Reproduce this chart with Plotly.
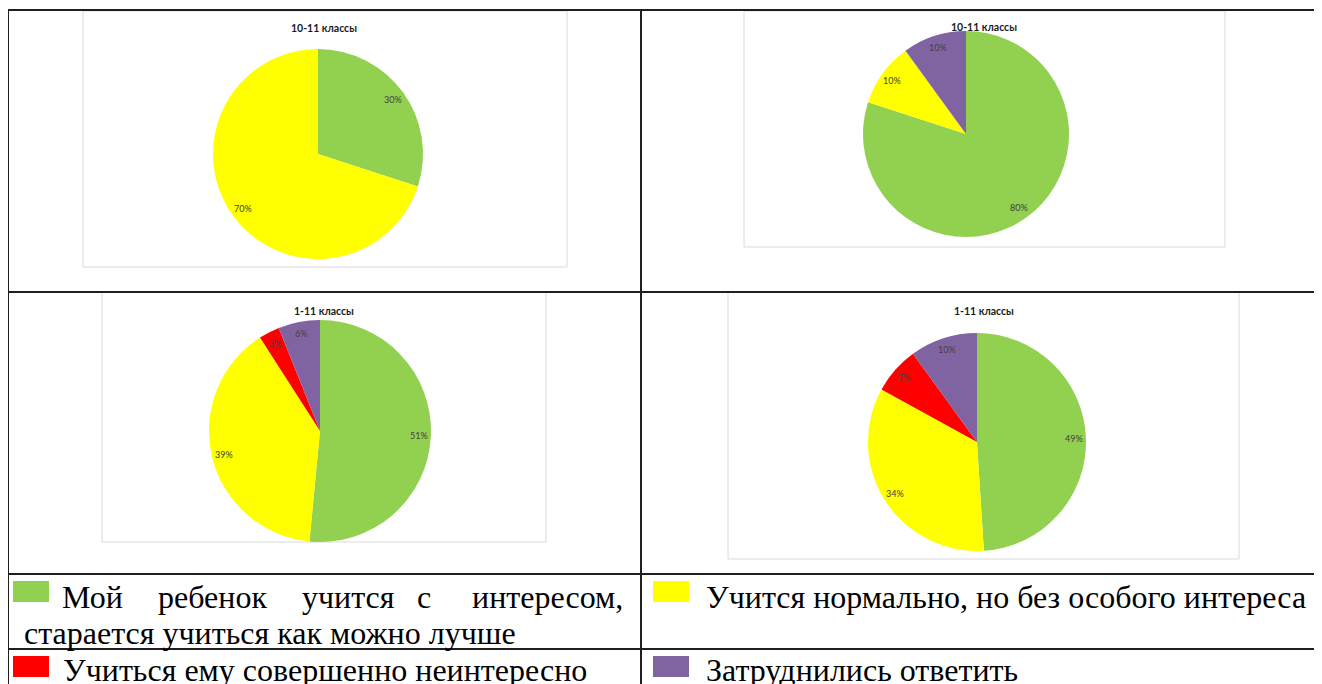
import math
import plotly.graph_objects as go

W, H = 1322, 684
# el navegador deja 8 px de margen en el body: se compensa aquí
DESPLAZ = 8

categorias = [
    "Мой ребенок учится с интересом, старается учиться как можно лучше",
    "Учится нормально, но без особого интереса",
    "Учиться ему совершенно неинтересно",
    "Затруднились ответить",
]
colores = ["#92D050", "#FFFF00", "#FF0000", "#8064A2"]

titulos = ["10-11 классы", "10-11 классы", "1-11 классы", "1-11 классы"]
valores_1 = [30, 70, 0, 0]
valores_2 = [80, 10, 0, 10]
valores_3 = [51, 39, 3, 6]
valores_4 = [49, 34, 7, 10]
valores = [valores_1, valores_2, valores_3, valores_4]

# posición de cada diagrama en píxeles: centro, radio, título y marco
centros = [(318, 154), (966, 134), (320, 431), (977, 442)]
radios = [105, 103, 111, 109]
pos_titulos = [(324, 28), (984, 27), (324, 311), (984, 311)]
marcos = [(83, 11, 567, 267), (744, 11, 1225, 247), (102, 292, 546, 542), (728, 292, 1239, 559)]


def px_x(x):
    return (x - DESPLAZ) / W


def px_y(y):
    return 1 - (y - DESPLAZ) / H


fig = go.Figure()
anotaciones = []
formas = []

for i, vals in enumerate(valores):
    cx, cy = centros[i]
    r = radios[i]
    fig.add_trace(go.Pie(
        labels=categorias,
        values=vals,
        marker=dict(colors=colores, line=dict(width=0)),
        sort=False,
        direction="clockwise",
        rotation=0,
        textinfo="none",
        hoverinfo="label+value",
        showlegend=False,
        domain=dict(x=[px_x(cx - r), px_x(cx + r)], y=[px_y(cy + r), px_y(cy - r)]),
    ))

    # etiquetas de porcentaje cerca del borde, como en Excel
    total = sum(vals)
    acum = 0
    for v in vals:
        if v == 0:
            continue
        ang = 2 * math.pi * (acum + v / 2) / total
        acum += v
        d = r - 12
        anotaciones.append(dict(
            x=px_x(cx + d * math.sin(ang)), y=px_y(cy - d * math.cos(ang)),
            xref="paper", yref="paper", text=f"{v}%", showarrow=False,
            xanchor="center", yanchor="middle",
            font=dict(family="Lato", size=9, color="#404040"),
        ))

    tx, ty = pos_titulos[i]
    anotaciones.append(dict(
        x=px_x(tx), y=px_y(ty), xref="paper", yref="paper",
        text=f"<b>{titulos[i]}</b>", showarrow=False,
        xanchor="center", yanchor="middle",
        font=dict(family="Lato", size=10.5, color="#1a1a1a"),
    ))

    x0, y0, x1, y1 = marcos[i]
    formas.append(dict(type="rect", xref="paper", yref="paper",
                       x0=px_x(x0), x1=px_x(x1), y0=px_y(y1), y1=px_y(y0),
                       line=dict(color="#D9D9D9", width=1), layer="below"))

# líneas de la tabla
negro = dict(color="#1f1f1f", width=2)
for y in [10, 292, 574, 649]:
    formas.append(dict(type="line", xref="paper", yref="paper",
                       x0=px_x(8), x1=1, y0=px_y(y), y1=px_y(y), line=negro))
for x, y_ini in [(8, 10), (641, 10)]:
    formas.append(dict(type="line", xref="paper", yref="paper",
                       x0=px_x(x), x1=px_x(x), y0=px_y(y_ini), y1=0, line=negro))

# leyenda de la tabla
cuadros = [(13, 581), (653, 581), (13, 656), (653, 656)]
for (qx, qy), c in zip(cuadros, colores):
    formas.append(dict(type="rect", xref="paper", yref="paper",
                       x0=px_x(qx), x1=px_x(qx + 36), y0=px_y(qy + 21), y1=px_y(qy),
                       fillcolor=c, line=dict(width=0)))

serif = dict(family="Liberation Serif", size=32, color="#000000")
# primera línea justificada
palabras = ["Мой", "ребенок", "учится", "с"]
x_palabras = [60, 156, 300, 415]
for p, x in zip(palabras, x_palabras):
    anotaciones.append(dict(x=px_x(x), y=px_y(597), xref="paper", yref="paper", text=p,
                            showarrow=False, xanchor="left", yanchor="middle", font=serif))
anotaciones.append(dict(x=px_x(625), y=px_y(597), xref="paper", yref="paper", text="интересом,",
                        showarrow=False, xanchor="right", yanchor="middle", font=serif))
textos = [
    (22, 633, "старается учиться как можно лучше"),
    (704, 597, categorias[1]),
    (61, 670, categorias[2]),
    (704, 670, categorias[3]),
]
for x, y, t in textos:
    anotaciones.append(dict(x=px_x(x), y=px_y(y), xref="paper", yref="paper", text=t,
                            showarrow=False, xanchor="left", yanchor="middle", font=serif))

fig.update_layout(
    width=W, height=H,
    margin=dict(l=0, r=0, t=0, b=0),
    paper_bgcolor="white",
    plot_bgcolor="white",
    annotations=anotaciones,
    shapes=formas,
)

fig.write_html("out.html")
